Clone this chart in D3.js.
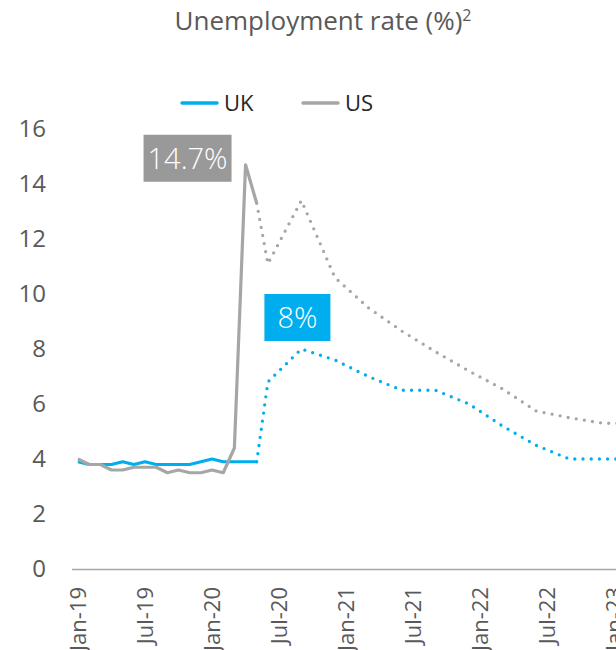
<!DOCTYPE html>
<html>
<head>
<meta charset="utf-8">
<script src="https://cdn.jsdelivr.net/npm/d3@7"></script>
<style>
  body { margin: 0; background: #fff; }
  svg { display: block; font-family: "Open Sans", "Noto Sans", sans-serif; }
</style>
</head>
<body>
<div id="viz"></div>
<script>
const colorUK = '#00AEEF';
const colorUS = '#A6A6A6';
const colorUSBox = '#999999';
const textColor = '#595959';

// months on the category axis, Jan-19 .. Mar-23
const fmt = d3.utcFormat('%b-%y');
const months = d3.utcMonths(new Date(Date.UTC(2019, 0, 1)), new Date(Date.UTC(2023, 3, 1))).map(fmt);
const tickMonths = ['Jan-19', 'Jul-19', 'Jan-20', 'Jul-20', 'Jan-21', 'Jul-21', 'Jan-22', 'Jul-22', 'Jan-23'];
const yTicks = [0, 2, 4, 6, 8, 10, 12, 14, 16];

// actual values (monthly, Jan-19 .. May-20)
const actualMonths = months.slice(0, 17);
const ukActual = [3.9, 3.8, 3.8, 3.8, 3.9, 3.8, 3.9, 3.8, 3.8, 3.8, 3.8, 3.9, 4.0, 3.9, 3.9, 3.9, 3.9];
const usActual = [4.0, 3.8, 3.8, 3.6, 3.6, 3.7, 3.7, 3.7, 3.5, 3.6, 3.5, 3.5, 3.6, 3.5, 4.4, 14.7, 13.3];

// forecast values
const forecastMonths = ['May-20', 'Jun-20', 'Sep-20', 'Dec-20', 'Mar-21', 'Jun-21', 'Sep-21', 'Dec-21', 'Mar-22', 'Jun-22', 'Sep-22', 'Dec-22', 'Mar-23'];
const ukForecast = [3.9, 6.8, 8.0, 7.6, 7.0, 6.5, 6.5, 6.0, 5.2, 4.5, 4.0, 4.0, 4.0];
const usForecast = [13.3, 11.1, 13.4, 10.6, 9.5, 8.65, 7.9, 7.2, 6.55, 5.75, 5.5, 5.3, 5.3];

const callouts = [
  {text: '14.7%', month: 'Apr-20', value: 14.7, fill: colorUSBox},
  {text: '8%', month: 'Sep-20', value: 8.0, fill: colorUK},
];

function createViz() {
  const dimensions = {
    width: 616,
    height: 650,
    margin: {top: 129, left: 78, bottom: 81},
  };
  const bottom = dimensions.height - dimensions.margin.bottom;

  const svg = d3.select('#viz').append('svg')
    .attr('width', dimensions.width)
    .attr('height', dimensions.height);

  const xScale = d3.scalePoint()
    .domain(months)
    .range([dimensions.margin.left, dimensions.margin.left + 11.17 * (months.length - 1)]);

  const yScale = d3.scaleLinear()
    .domain([0, 16])
    .range([bottom, dimensions.margin.top]);

  // title
  const title = svg.append('text')
    .attr('x', 323)
    .attr('y', 30)
    .attr('text-anchor', 'middle')
    .style('font-size', '26px')
    .style('fill', textColor);
  title.append('tspan').text('Unemployment rate (%)');
  title.append('tspan').attr('dy', -9).style('font-size', '16px').text('2');

  // legend
  const legend = [
    {name: 'UK', color: colorUK, x: 182},
    {name: 'US', color: colorUS, x: 303},
  ];
  const lg = svg.append('g').selectAll('g').data(legend).join('g')
    .attr('transform', d => `translate(${d.x},103)`);
  lg.append('line')
    .attr('x1', 0).attr('x2', 35)
    .attr('stroke', d => d.color)
    .attr('stroke-width', 3.5)
    .attr('stroke-linecap', 'round');
  lg.append('text')
    .attr('x', 42)
    .attr('y', 8)
    .style('font-size', '22px')
    .style('fill', '#262626')
    .text(d => d.name);

  // y axis
  const yAxis = svg.append('g')
    .attr('transform', 'translate(46,0)')
    .call(d3.axisLeft(yScale).tickValues(yTicks).tickSize(0).tickPadding(0));
  yAxis.select('.domain').remove();
  yAxis.selectAll('text')
    .style('font-size', '24px')
    .style('font-family', '"Open Sans", sans-serif')
    .style('fill', textColor);

  // x axis
  const xAxis = svg.append('g')
    .attr('transform', `translate(0,${bottom})`)
    .call(d3.axisBottom(xScale).tickValues(tickMonths).tickSize(0));
  xAxis.select('.domain')
    .attr('d', `M72,0.5H${dimensions.width + 20}`)
    .attr('stroke', colorUS)
    .attr('stroke-width', 1.5);
  xAxis.selectAll('text')
    .attr('transform', 'rotate(-90)')
    .attr('text-anchor', 'end')
    .attr('x', -18)
    .attr('y', 0)
    .attr('dy', '0.35em')
    .style('font-size', '22px')
    .style('font-family', '"Open Sans", sans-serif')
    .style('fill', textColor);

  const line = d3.line()
    .x(d => xScale(d[0]))
    .y(d => yScale(d[1]));

  const series = [
    {months: forecastMonths, values: usForecast, color: colorUS, dotted: true},
    {months: forecastMonths, values: ukForecast, color: colorUK, dotted: true},
    {months: actualMonths, values: ukActual, color: colorUK, dotted: false},
    {months: actualMonths, values: usActual, color: colorUS, dotted: false},
  ];

  svg.append('g').selectAll('path').data(series).join('path')
    .attr('d', d => line(d.months.map((m, i) => [m, d.values[i]])))
    .attr('fill', 'none')
    .attr('stroke', d => d.color)
    .attr('stroke-width', d => d.dotted ? 3.3 : 3.2)
    .attr('stroke-linecap', d => d.dotted ? 'round' : 'butt')
    .attr('stroke-linejoin', 'round')
    .attr('stroke-dasharray', d => d.dotted ? '0 8.2' : null);

  // callout boxes
  const boxes = [
    {w: 88, h: 47, dx: -102, dy: -30},
    {w: 66, h: 47, dx: -37, dy: -55},
  ];
  const cg = svg.append('g').selectAll('g').data(callouts).join('g')
    .attr('transform', (d, i) => `translate(${xScale(d.month) + boxes[i].dx},${yScale(d.value) + boxes[i].dy})`);
  cg.append('rect')
    .attr('width', (d, i) => boxes[i].w)
    .attr('height', (d, i) => boxes[i].h)
    .attr('fill', d => d.fill);
  cg.append('text')
    .attr('x', (d, i) => boxes[i].w / 2)
    .attr('y', (d, i) => boxes[i].h / 2)
    .attr('dy', '0.36em')
    .attr('text-anchor', 'middle')
    .style('font-size', '29px')
    .style('font-weight', 300)
    .style('fill', '#fff')
    .text(d => d.text);
}

createViz();
</script>
</body>
</html>
